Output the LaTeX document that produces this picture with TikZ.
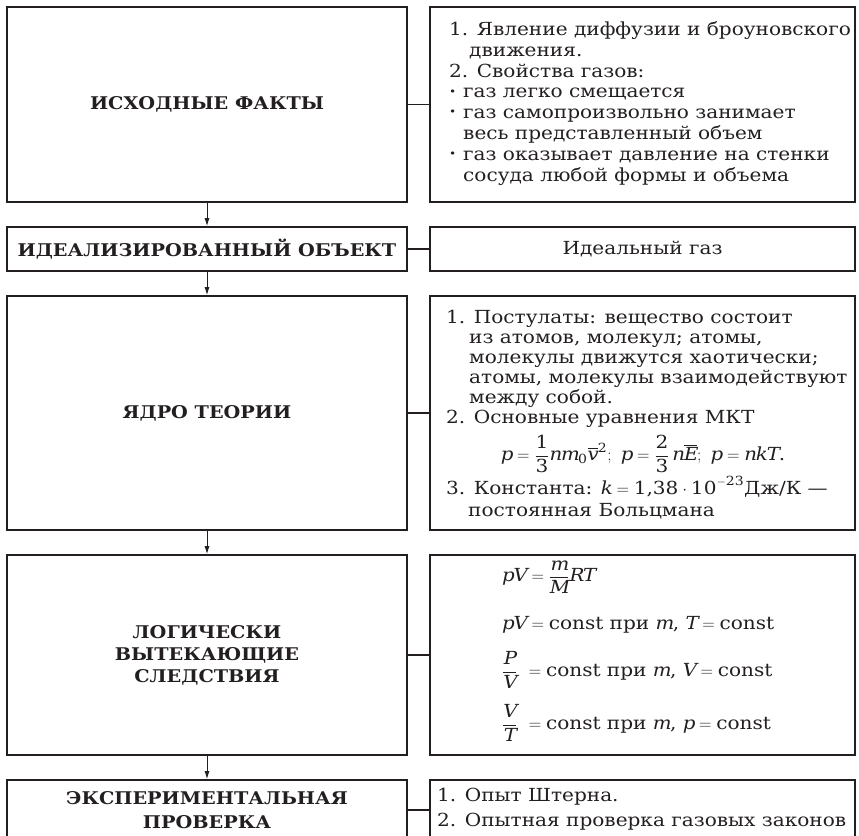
\documentclass[tikz,border=0pt]{standalone}
\usepackage{amsmath}
\usepackage{fontspec}
\setmainfont{DejaVu Serif}
\newfontfamily\txtfam[FakeStretch=1.115]{DejaVu Serif}
\newfontfamily\lblfam[FakeStretch=1.10]{DejaVu Serif Bold}
\newfontfamily\mathtxt[NFSSFamily=dvsm,FakeStretch=1.1]{DejaVu Serif}
\DeclareSymbolFont{letters}{TU}{dvsm}{m}{it}
\usetikzlibrary{arrows.meta}
\definecolor{ink}{HTML}{231F20}
\newcommand\txtfont{\txtfam\fontsize{18}{20.9}\selectfont}
\newcommand\lblfont{\lblfam\fontsize{17.5}{22}\selectfont}
\newcommand\bul{\makebox[14pt][l]{\raisebox{0.3ex}{\scalebox{0.6}{•}}}}
\newcommand\dg[1]{\text{#1}}
\begin{document}
\begin{tikzpicture}[x=1pt,y=-1pt,
  lbox/.style={draw=ink, line width=1.7pt, minimum width=400pt, inner sep=0pt, font=\lblfont, align=center, text=ink},
  rbox/.style={draw=ink, line width=1.7pt, minimum width=425pt, inner sep=0pt},
  txt/.style={font=\txtfont, align=left, anchor=base west, inner sep=0pt, text=ink},
  eq/.style={font=\txtfont, anchor=west, inner sep=0pt, text=ink},
  conn/.style={draw=ink, line width=1.7pt},
  arr/.style={draw=ink, line width=0.9pt, -{Latex[length=8pt,width=5pt]}}]
\useasboundingbox (0,0) rectangle (859,835);
\clip (0,0) rectangle (859,835);
% left boxes
\node[lbox, minimum height=195pt] (l1) at (207,104.5) {ИСХОДНЫЕ ФАКТЫ};
\node[lbox, minimum height=44pt] (l2) at (207,249) {ИДЕАЛИЗИРОВАННЫЙ ОБЪЕКТ};
\node[lbox, minimum height=234pt] (l3) at (207,413) {ЯДРО ТЕОРИИ};
\node[lbox, minimum height=200pt] (l4) at (207,655) {ЛОГИЧЕСКИ\\ВЫТЕКАЮЩИЕ\\СЛЕДСТВИЯ};
\node[lbox, minimum height=60pt] (l5) at (207,810) {ЭКСПЕРИМЕНТАЛЬНАЯ\\[2pt]ПРОВЕРКА};
% right boxes
\node[rbox, minimum height=195pt] (r1) at (642.5,104.5) {};
\node[rbox, minimum height=44pt] (r2) at (642.5,249) {};
\node[rbox, minimum height=234pt] (r3) at (642.5,413) {};
\node[rbox, minimum height=200pt] (r4) at (642.5,655) {};
\node[rbox, minimum height=60pt] (r5) at (642.5,810) {};
% connectors
\foreach \i in {1,...,5} \draw[conn] (l\i.east) -- (r\i.west);
\foreach \i/\j in {1/2,2/3,3/4,4/5} \draw[arr] (l\i.south) -- (l\j.north);
% texts
\node[txt] (t1) at (449,181.5) {1. Явление диффузии и броуновского\\
\hspace*{20pt}движения.\\
2. Свойства газов:\\
\bul газ легко смещается\\
\bul газ самопроизвольно занимает\\
\hspace*{14pt}весь представленный объем\\
\bul газ оказывает давление на стенки\\
\hspace*{14pt}сосуда любой формы и объема};
\node[font=\txtfont, text=ink, inner sep=0pt] (t2) at (r2.center) {Идеальный газ};
\node[txt, font={\txtfam\fontsize{18}{20}\selectfont}] (t3) at (446,423) {1. Постулаты: вещество состоит\\
\hspace*{23pt}из атомов, молекул; атомы,\\
\hspace*{23pt}молекулы движутся хаотически;\\
\hspace*{23pt}атомы, молекулы взаимодействуют\\
\hspace*{23pt}между собой.\\
2. Основные уравнения МКТ};
\node[font=\txtfont, text=ink, inner sep=0pt] (f3) at (643,454) {$p=\dfrac{\dg{1}}{\dg{3}}nm_{\dg{0}}\overline{v}^{\dg{2}};\ p=\dfrac{\dg{2}}{\dg{3}}\,n\overline{E};\ p=nkT$.};
\node[txt, font={\txtfam\fontsize{18}{22}\selectfont}] (t3b) at (446,516.5) {3. Константа: $k=\dg{1,38}\cdot\dg{10}^{-\dg{23}}$Дж/К —\\
\hspace*{22pt}постоянная Больцмана};
\node[eq] (e1) at (502,577) {$pV=\dfrac{m}{M}RT$};
\node[eq] (e2) at (502,625) {$pV=\text{const при }m$, $T=\text{const}$};
\node[eq] (e3) at (502,670) {$\dfrac{P}{V}\ =\text{const при }m$, $V=\text{const}$};
\node[eq] (e4) at (502,723) {$\dfrac{V}{T}\ =\text{const при }m$, $p=\text{const}$};
\node[txt, font={\txtfam\fontsize{18}{25}\selectfont}] (t5) at (437,826.5) {1. Опыт Штерна.\\2. Опытная проверка газовых законов};
\end{tikzpicture}
\end{document}
